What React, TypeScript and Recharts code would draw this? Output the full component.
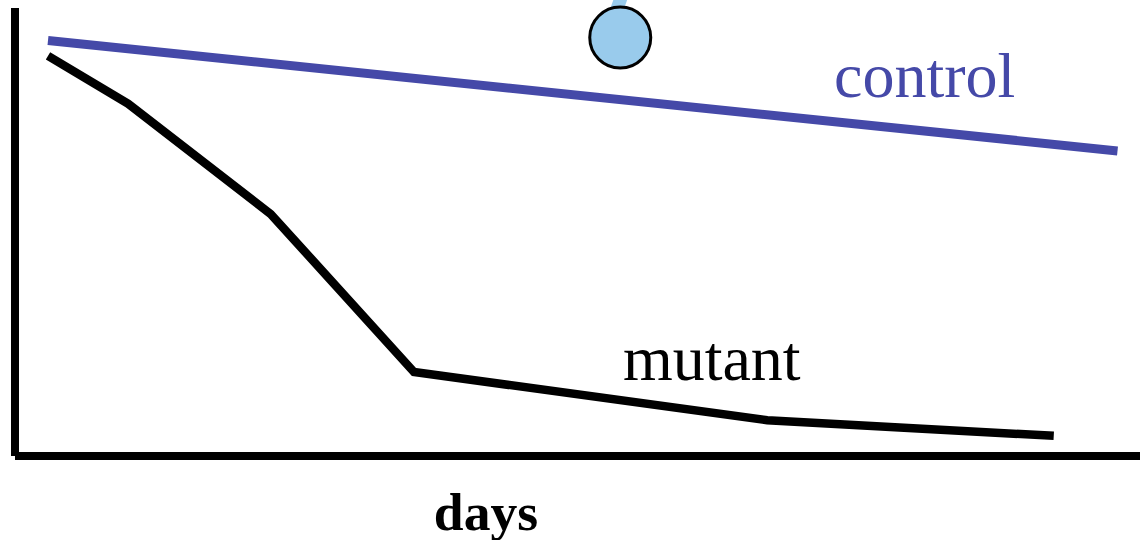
import { LineChart, Line, XAxis, YAxis, ReferenceDot, ReferenceLine, Label } from "recharts";

const CONTROL_COLOR = "#4549a8";
const DROP_COLOR = "#99cbec";

// time in days, signal in percent of the axis height
const controlDays = [0.44, 14.7];
const controlValues = [92.75, 68.1];
const mutantDays = [0.44, 1.51, 3.41, 5.32, 10.03, 13.85];
const mutantValues = [89.3, 78.6, 54, 18.75, 8, 4.5];
const stemDays = [8.1, 7.95];
const stemValues = [103.2, 96.2];
const dropDay = 8.07;
const dropValue = 93.4;

const toRows = (days: number[], values: number[]) =>
  days.map((day, i) => ({ day, value: values[i] }));

const serif = "'Liberation Serif', 'Times New Roman', serif";

export default function App() {
  return (
    <div style={{ position: "absolute", left: 0, top: 0 }}>
      <LineChart
        width={1140}
        height={540}
        margin={{ top: 8, right: 0, bottom: 83, left: 14 }}
      >
        <XAxis
          type="number"
          dataKey="day"
          domain={[0, 15]}
          tick={false}
          height={1}
          axisLine={{ stroke: "#000", strokeWidth: 8 }}
          tickLine={false}
          allowDuplicatedCategory={false}
        />
        <YAxis
          type="number"
          dataKey="value"
          domain={[0, 100]}
          tick={false}
          width={1}
          axisLine={{ stroke: "#000", strokeWidth: 8 }}
          tickLine={false}
        />
        <ReferenceLine
          segment={stemDays.map((day, i) => ({ x: day, y: stemValues[i] }))}
          stroke={DROP_COLOR}
          strokeWidth={13}
          ifOverflow="visible"
        />
        <Line
          data={toRows(controlDays, controlValues)}
          dataKey="value"
          stroke={CONTROL_COLOR}
          strokeWidth={9}
          dot={false}
          isAnimationActive={false}
        />
        <Line
          data={toRows(mutantDays, mutantValues)}
          dataKey="value"
          stroke="#000"
          strokeWidth={8.5}
          dot={false}
          isAnimationActive={false}
        />
        <ReferenceDot
          x={dropDay}
          y={dropValue}
          r={30.5}
          fill={DROP_COLOR}
          stroke="#000"
          strokeWidth={3}
          ifOverflow="visible"
        />
        <ReferenceDot x={12.13} y={85.2} r={0} ifOverflow="visible">
          <Label
            value="control"
            position="center"
            style={{ fontFamily: serif, fontSize: 64, fill: CONTROL_COLOR }}
          />
        </ReferenceDot>
        <ReferenceDot x={9.29} y={22.1} r={0} ifOverflow="visible">
          <Label
            value="mutant"
            position="center"
            style={{ fontFamily: serif, fontSize: 64, fill: "#000" }}
          />
        </ReferenceDot>
        <ReferenceDot x={6.28} y={-12.3} r={0} ifOverflow="visible">
          <Label
            value="days"
            position="center"
            style={{ fontFamily: serif, fontSize: 53.6, fontWeight: "bold", fill: "#000" }}
          />
        </ReferenceDot>
      </LineChart>
    </div>
  );
}
